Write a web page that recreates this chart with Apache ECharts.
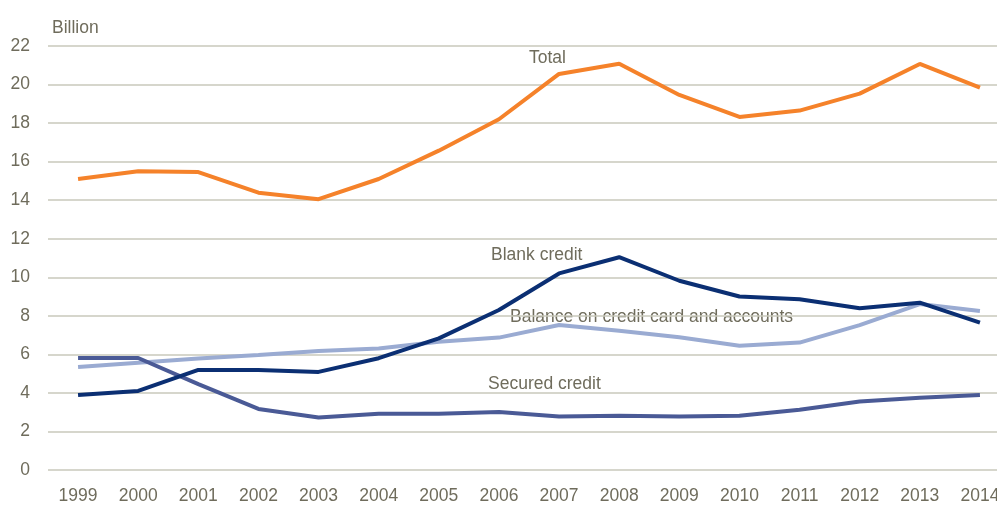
<!DOCTYPE html>
<html>
<head>
<meta charset="utf-8">
<script src="https://cdn.jsdelivr.net/npm/echarts@6/dist/echarts.min.js"></script>
<style>
  html, body { margin: 0; padding: 0; background: #fff; overflow: hidden; }
  /* a bit wider than the window: the plot runs past the right edge, like the original */
  #chart { width: 1010px; height: 507px; }
</style>
</head>
<body>
<div id="chart"></div>
<script>
// data (billion)
var years = ['1999','2000','2001','2002','2003','2004','2005','2006','2007','2008','2009','2010','2011','2012','2013','2014'];
var total    = [15.1, 15.5, 15.46, 14.39, 14.05, 15.1, 16.57, 18.2, 20.55, 21.08, 19.46, 18.32, 18.65, 19.53, 21.07, 19.84];
var blank    = [3.89, 4.1, 5.19, 5.19, 5.09, 5.8, 6.83, 8.3, 10.2, 11.04, 9.82, 9.0, 8.86, 8.39, 8.68, 7.65];
var balance  = [5.35, 5.57, 5.78, 5.97, 6.18, 6.3, 6.66, 6.87, 7.52, 7.23, 6.89, 6.45, 6.61, 7.52, 8.61, 8.25];
var secured  = [5.81, 5.81, 4.46, 3.17, 2.72, 2.92, 2.92, 3.01, 2.77, 2.82, 2.77, 2.82, 3.13, 3.55, 3.75, 3.89];

var txt = '#6f6c5c';
var font = '"Liberation Sans", Arial, sans-serif';
var fs = 17.5;

function line(name, data, color) {
	return {
		name: name,
		type: 'line',
		data: data,
		symbol: 'none',
		lineStyle: { color: color, width: 4 },
		itemStyle: { color: color }
	};
}

var chart = echarts.init(document.getElementById('chart'));
chart.setOption({
	animation: false,
	grid: { left: 48, right: 0, top: 46, bottom: 37 },
	xAxis: {
		type: 'category',
		data: years,
		axisLine: { show: false },
		axisTick: { show: false },
		axisLabel: { color: txt, fontSize: fs, fontFamily: font, margin: 17 }
	},
	yAxis: {
		type: 'value',
		min: 0,
		max: 22,
		interval: 2,
		axisLine: { show: false },
		axisTick: { show: false },
		axisLabel: { color: txt, fontSize: fs, fontFamily: font, margin: 18 },
		splitLine: { lineStyle: { color: '#c9c8bb', width: 1.5 } }
	},
	series: [
		line('Balance on credit card and accounts', balance, '#9aabd2'),
		line('Secured credit', secured, '#4a5a96'),
		line('Blank credit', blank, '#0b2f73'),
		line('Total', total, '#f5822a')
	],
	graphic: [
		{ type: 'text', left: 52, top: 19, style: { text: 'Billion', fill: txt, font: fs + 'px ' + font } },
		{ type: 'text', left: 529, top: 49, style: { text: 'Total', fill: txt, font: fs + 'px ' + font } },
		{ type: 'text', left: 491, top: 246, style: { text: 'Blank credit', fill: txt, font: fs + 'px ' + font } },
		{ type: 'text', left: 510, top: 308, style: { text: 'Balance on credit card and accounts', fill: txt, font: fs + 'px ' + font } },
		{ type: 'text', left: 488, top: 375, style: { text: 'Secured credit', fill: txt, font: fs + 'px ' + font } }
	]
});
</script>
</body>
</html>
